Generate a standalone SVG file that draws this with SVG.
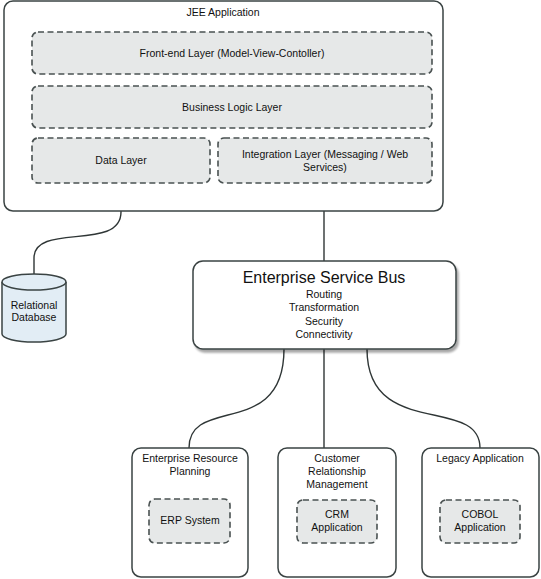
<svg xmlns="http://www.w3.org/2000/svg" width="541" height="579" viewBox="0 0 541 579">
<style>
.box{fill:#fff;stroke:#3a4343;stroke-width:1.5}
.dash{fill:#e6e8e8;stroke:#4a5252;stroke-width:1.6;stroke-dasharray:6 3.5}
.conn{fill:none;stroke:#2f3636;stroke-width:1.4}
text{font-family:"Liberation Sans",Arial,sans-serif;fill:#111;text-anchor:middle}
.s{font-size:10.5px}
.t{font-size:16px}
</style>
<defs>
<filter id="sh" x="-5%" y="-5%" width="110%" height="120%">
<feGaussianBlur in="SourceAlpha" stdDeviation="1.2"/>
<feOffset dx="2" dy="3"/>
<feComponentTransfer><feFuncA type="linear" slope="0.35"/></feComponentTransfer>
<feMerge><feMergeNode/><feMergeNode in="SourceGraphic"/></feMerge>
</filter>
</defs>
<rect width="541" height="579" fill="#fff"/>
<g id="connectors">
<path class="conn" d="M121,183 L121,212 C121,252 34,222 34,258 L34,275"/>
<path class="conn" d="M324,183 L324,261"/>
<path class="conn" d="M284,349 C284,440 189,395 189,448"/>
<path class="conn" d="M324,349 L324,448"/>
<path class="conn" d="M367,349 C367,440 480,395 480,448"/>
</g>
<g id="jee">
<rect class="box" x="4" y="1" width="439" height="210" rx="9"/>
<text class="s" x="223" y="16">JEE Application</text>
</g>
<g id="frontend">
<rect class="dash" x="32" y="32" width="400" height="42" rx="6"/>
<text class="s" x="232" y="57">Front-end Layer (Model-View-Contoller)</text>
</g>
<g id="business">
<rect class="dash" x="32" y="86" width="400" height="42" rx="6"/>
<text class="s" x="232" y="111">Business Logic Layer</text>
</g>
<g id="data">
<rect class="dash" x="32" y="138" width="178" height="45" rx="6"/>
<text class="s" x="121" y="164">Data Layer</text>
</g>
<g id="integration">
<rect class="dash" x="218" y="138" width="214" height="45" rx="6"/>
<text class="s" x="325" y="158">Integration Layer (Messaging / Web</text>
<text class="s" x="325" y="171">Services)</text>
</g>
<g id="database">
<path d="M2,282 L2,334 A32,8 0 0 0 66,334 L66,282" fill="#e2edf5" stroke="#3a4343" stroke-width="1.5"/>
<ellipse cx="34" cy="282" rx="32" ry="8" fill="#e2edf5" stroke="#3a4343" stroke-width="1.5"/>
<text class="s" x="34" y="309">Relational</text>
<text class="s" x="34" y="321">Database</text>
</g>
<g id="esb">
<rect class="box" x="193" y="261" width="263" height="88" rx="10" filter="url(#sh)"/>
<text class="t" x="324" y="283">Enterprise Service Bus</text>
<text class="s" x="324" y="298">Routing</text>
<text class="s" x="324" y="311">Transformation</text>
<text class="s" x="324" y="325">Security</text>
<text class="s" x="324" y="338">Connectivity</text>
</g>
<g id="erp">
<rect class="box" x="132" y="448" width="116" height="129" rx="9"/>
<text class="s" x="190" y="462">Enterprise Resource</text>
<text class="s" x="190" y="475">Planning</text>
</g>
<g id="erp-system">
<rect class="dash" x="149" y="499" width="81" height="44" rx="6"/>
<text class="s" x="190" y="524">ERP System</text>
</g>
<g id="crm">
<rect class="box" x="278" y="448" width="118" height="129" rx="9"/>
<text class="s" x="337" y="462">Customer</text>
<text class="s" x="337" y="475">Relationship</text>
<text class="s" x="337" y="488">Management</text>
</g>
<g id="crm-app">
<rect class="dash" x="297" y="500" width="80" height="43" rx="6"/>
<text class="s" x="337" y="518">CRM</text>
<text class="s" x="337" y="531">Application</text>
</g>
<g id="legacy">
<rect class="box" x="422" y="448" width="117" height="129" rx="9"/>
<text class="s" x="480" y="462">Legacy Application</text>
</g>
<g id="cobol">
<rect class="dash" x="440" y="500" width="80" height="43" rx="6"/>
<text class="s" x="480" y="518">COBOL</text>
<text class="s" x="480" y="531">Application</text>
</g>
</svg>
